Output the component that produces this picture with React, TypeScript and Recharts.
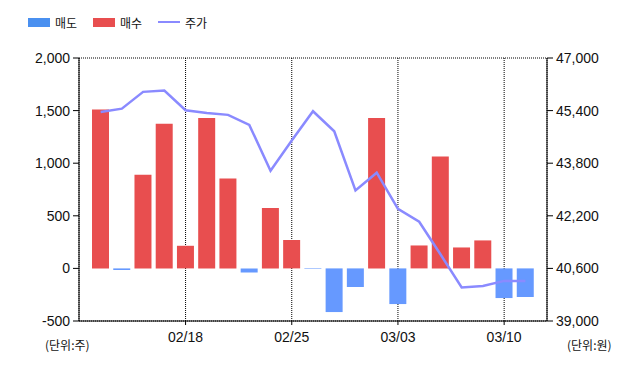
import { ComposedChart, Bar, Line, XAxis, YAxis, CartesianGrid } from "recharts";

const dates = [
  "02/12", "02/13", "02/14", "02/17", "02/18", "02/19", "02/20", "02/21", "02/24", "02/25",
  "02/26", "02/27", "02/28", "03/02", "03/03", "03/04", "03/05", "03/06", "03/09", "03/10", "03/11",
];
const sell = [0, -15, 0, 0, 0, 0, 0, -40, 0, 0, -5, -415, -177, 0, -339, 0, 0, 0, 0, -282, -272];
const buy = [1510, 0, 890, 1375, 215, 1430, 855, 0, 575, 270, 0, 0, 0, 1430, 0, 218, 1063, 199, 266, 0, 0];
const price = [
  45360, 45460, 45970, 46010, 45410, 45330, 45270, 44965, 43570, 44490,
  45380, 44770, 42970, 43510, 42410, 42020, 41030, 40020, 40065, 40220, 40220,
];
const xTicks = ["02/18", "02/25", "03/03", "03/10"];
const leftTicks = [-500, 0, 500, 1000, 1500, 2000];
const rightTicks = [39000, 40600, 42200, 43800, 45400, 47000];

const data = dates.map((d, i) => ({
  date: d,
  sell: sell[i] === 0 ? null : sell[i],
  buy: buy[i] === 0 ? null : buy[i],
  price: price[i],
}));

const SELL = "#6699ff";
const BUY = "#e84e4f";
const LINE = "#8a8aff";
const tickStyle = { fontSize: 14, fill: "#111", fontFamily: "'Liberation Sans', Arial, sans-serif" };
const fmt = (v: number) => v.toLocaleString("en-US");
const krText = { fontSize: 12, fontFamily: "'Noto Sans CJK KR', sans-serif", color: "#111" };

function LegendBox() {
  return (
    <div style={{ position: "absolute", left: 28, top: 12, display: "flex", alignItems: "center", height: 20 }}>
      <span style={{ width: 22, height: 9, background: "#4a90f0", display: "inline-block" }} />
      <span style={{ ...krText, marginLeft: 5, width: 38 }}>매도</span>
      <span style={{ width: 22, height: 9, background: BUY, display: "inline-block" }} />
      <span style={{ ...krText, marginLeft: 5, width: 38 }}>매수</span>
      <span style={{ width: 22, height: 2, background: LINE, display: "inline-block" }} />
      <span style={{ ...krText, marginLeft: 5 }}>주가</span>
    </div>
  );
}

export default function App() {
  const unit = { ...krText, position: "absolute" as const, top: 336 };
  return (
    <div style={{ position: "absolute", left: 0, top: 0, width: 640, height: 368, background: "#fff" }}>
      <ComposedChart
        width={640}
        height={368}
        data={data}
        stackOffset="sign"
        margin={{ top: 58, right: 0, bottom: 17, left: 0 }}
      >
        <CartesianGrid stroke="#000" strokeDasharray="1 1" />
        <XAxis
          dataKey="date"
          ticks={xTicks}
          interval={0}
          height={30}
          padding={{ left: 11, right: 11 }}
          axisLine={{ stroke: "#000" }}
          tickLine={{ stroke: "#000" }}
          tickSize={4}
          tickMargin={7}
          tick={tickStyle}
        />
        <YAxis
          yAxisId="left"
          width={79}
          domain={[-500, 2000]}
          ticks={leftTicks}
          tickFormatter={fmt}
          axisLine={{ stroke: "#000" }}
          tickLine={{ stroke: "#000" }}
          tickSize={6}
          tickMargin={3}
          tick={tickStyle}
        />
        <YAxis
          yAxisId="right"
          orientation="right"
          width={93}
          domain={[39000, 47000]}
          ticks={rightTicks}
          tickFormatter={fmt}
          axisLine={{ stroke: "#000" }}
          tickLine={{ stroke: "#000" }}
          tickSize={6}
          tickMargin={3}
          tick={tickStyle}
        />
        <Bar yAxisId="left" dataKey="sell" name="매도" stackId="a" fill={SELL} barSize={17} isAnimationActive={false} />
        <Bar yAxisId="left" dataKey="buy" name="매수" stackId="a" fill={BUY} barSize={17} isAnimationActive={false} />
        <Line
          yAxisId="right"
          dataKey="price"
          name="주가"
          type="linear"
          stroke={LINE}
          strokeWidth={2.5}
          dot={false}
          isAnimationActive={false}
        />
      </ComposedChart>
      <LegendBox />
      <span style={{ ...unit, left: 45 }}>(단위:주)</span>
      <span style={{ ...unit, left: 567 }}>(단위:원)</span>
    </div>
  );
}
